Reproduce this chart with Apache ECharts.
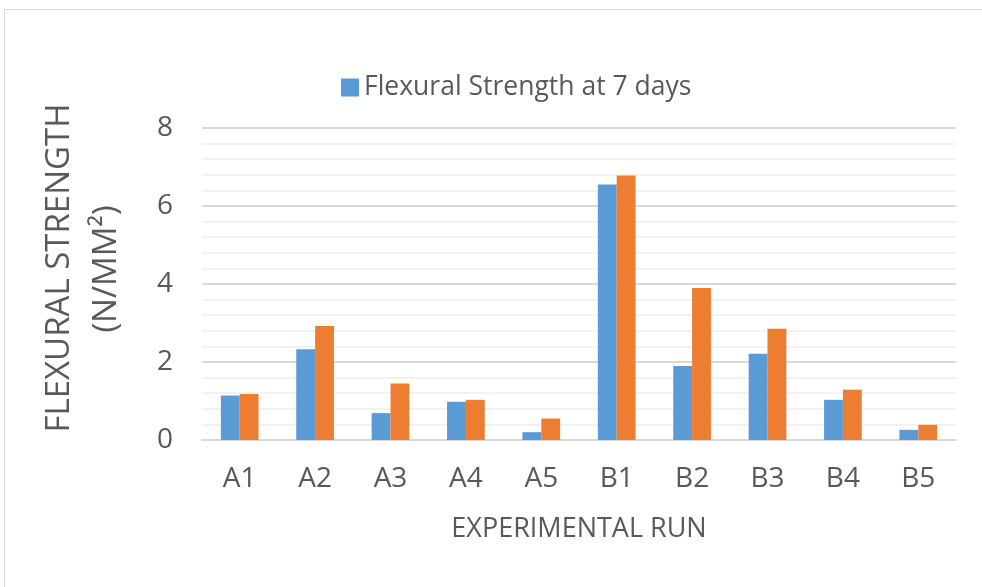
<!DOCTYPE html>
<html><head><meta charset="utf-8">
<script src="https://cdn.jsdelivr.net/npm/echarts@6/dist/echarts.min.js"></script>
<style>html,body{margin:0;padding:0;background:#fff}#c{width:982px;height:587px}</style>
</head><body><div id="c"></div>
<script>
const categories = ['A1','A2','A3','A4','A5','B1','B2','B3','B4','B5'];
const strength7 = [1.14, 2.33, 0.69, 0.98, 0.20, 6.55, 1.90, 2.21, 1.03, 0.26];
const strength28 = [1.18, 2.92, 1.45, 1.03, 0.55, 6.78, 3.90, 2.85, 1.29, 0.39];
const yTicks = [0, 2, 4, 6, 8];
const seriesNames = ['Flexural Strength at 7 days', 'Flexural Strength at 28 days'];

const chart = echarts.init(document.getElementById('c'), null, {renderer:'canvas'});
const font = 'Open Sans';
chart.setOption({
  animation: false,
  textStyle: {fontFamily: font},
  graphic: [
    {type:'rect', shape:{x:4.5, y:9.5, width:1000, height:600}, style:{fill:'none', stroke:'#D9D9D9', lineWidth:1}},
    {type:'text', x:60, y:268, rotation:Math.PI/2,
     style:{text:'FLEXURAL STRENGTH', fontFamily:font, fontSize:33, fill:'#595959', align:'center', verticalAlign:'middle'}},
    {type:'text', x:107, y:269, rotation:Math.PI/2,
     style:{text:'(N/MM²)', fontFamily:font, fontSize:33, fill:'#595959', align:'center', verticalAlign:'middle'}}
  ],
  legend: {
    data: [seriesNames[0]], top: 69, left: 336,
    itemWidth: 18, itemHeight: 18, icon: 'rect',
    textStyle: {fontFamily: font, fontSize: 26.5, color:'#595959'}
  },
  grid: {left: 202, right: 26, top: 128, bottom: 147, containLabel: false},
  xAxis: {
    type: 'category', data: categories,
    name: 'EXPERIMENTAL RUN', nameLocation: 'middle', nameGap: 76,
    nameTextStyle: {fontFamily: font, fontSize: 27, color:'#595959'},
    axisLine: {lineStyle: {color:'#D9D9D9', width:2}},
    axisTick: {show:false},
    axisLabel: {fontFamily: font, fontSize: 28, color:'#595959', margin: 25}
  },
  yAxis: {
    type: 'value', min: yTicks[0], max: yTicks[yTicks.length-1], interval: 2,
    axisLine: {show:false}, axisTick: {show:false},
    axisLabel: {fontFamily: font, fontSize: 28, color:'#595959', margin: 29},
    splitLine: {lineStyle: {color:'#D9D9D9', width:2}},
    minorTick: {show:false, splitNumber:5},
    minorSplitLine: {show:true, lineStyle:{color:'#F2F2F2', width:2}}
  },
  series: [
    {name: seriesNames[0], type:'bar', data: strength7, barGap: '0%', barCategoryGap: '50%',
     itemStyle: {color:'#5B9BD5'}},
    {name: seriesNames[1], type:'bar', data: strength28, barGap: '0%', barCategoryGap: '50%',
     itemStyle: {color:'#ED7D31'}}
  ]
});
</script></body></html>
